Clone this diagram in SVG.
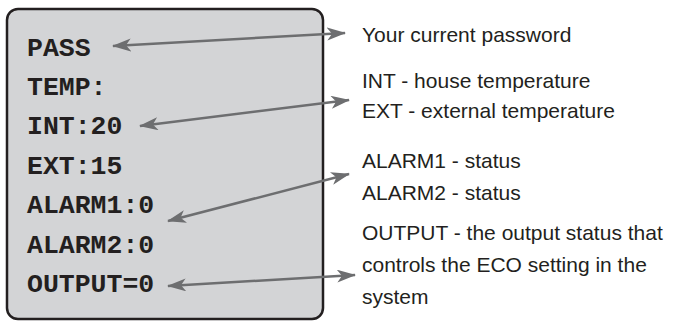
<svg xmlns="http://www.w3.org/2000/svg" width="677" height="321" viewBox="0 0 677 321">
  <style>
    .mono { font-family: "Liberation Mono", "Courier New", monospace; font-weight: bold; font-size: 26.5px; fill: #231f20; }
    .lbl { font-family: "Liberation Sans", Arial, sans-serif; font-size: 21px; fill: #231f20; }
    .conn { stroke: #6d6e70; stroke-width: 2.5; fill: none; marker-start: url(#ah); marker-end: url(#ah); }
  </style>
  <defs>
    <marker id="ah" markerUnits="userSpaceOnUse" markerWidth="22" markerHeight="14" refX="18" refY="6.5" orient="auto-start-reverse">
      <path d="M0,0 L19,6.5 L0,13 L5,6.5 Z" fill="#6d6e70"/>
    </marker>
  </defs>
  <rect width="677" height="321" fill="#ffffff"/>
  <g id="display">
    <rect x="7" y="9" width="316" height="310" rx="11" ry="11" fill="#d3d4d6" stroke="#231f20" stroke-width="2.5"/>
    <text class="mono" x="27" y="56">PASS</text>
    <text class="mono" x="27" y="95">TEMP:</text>
    <text class="mono" x="27" y="134">INT:20</text>
    <text class="mono" x="27" y="174">EXT:15</text>
    <text class="mono" x="27" y="213">ALARM1:0</text>
    <text class="mono" x="27" y="253">ALARM2:0</text>
    <text class="mono" x="27" y="292">OUTPUT=0</text>
  </g>
  <g id="label-pass">
    <text class="lbl" x="362" y="42">Your current password</text>
  </g>
  <g id="label-temp">
    <text class="lbl" x="362" y="88">INT - house temperature</text>
    <text class="lbl" x="362" y="118">EXT - external temperature</text>
  </g>
  <g id="label-alarm">
    <text class="lbl" x="362" y="168">ALARM1 - status</text>
    <text class="lbl" x="362" y="200">ALARM2 - status</text>
  </g>
  <g id="label-output">
    <text class="lbl" x="362" y="240">OUTPUT - the output status that</text>
    <text class="lbl" x="362" y="272">controls the ECO setting in the</text>
    <text class="lbl" x="362" y="304">system</text>
  </g>
  <g id="connectors">
    <line class="conn" x1="113" y1="46" x2="345" y2="33"/>
    <line class="conn" x1="140" y1="126" x2="349" y2="100"/>
    <line class="conn" x1="168" y1="221" x2="349" y2="174"/>
    <line class="conn" x1="168" y1="286" x2="355" y2="275"/>
  </g>
</svg>
